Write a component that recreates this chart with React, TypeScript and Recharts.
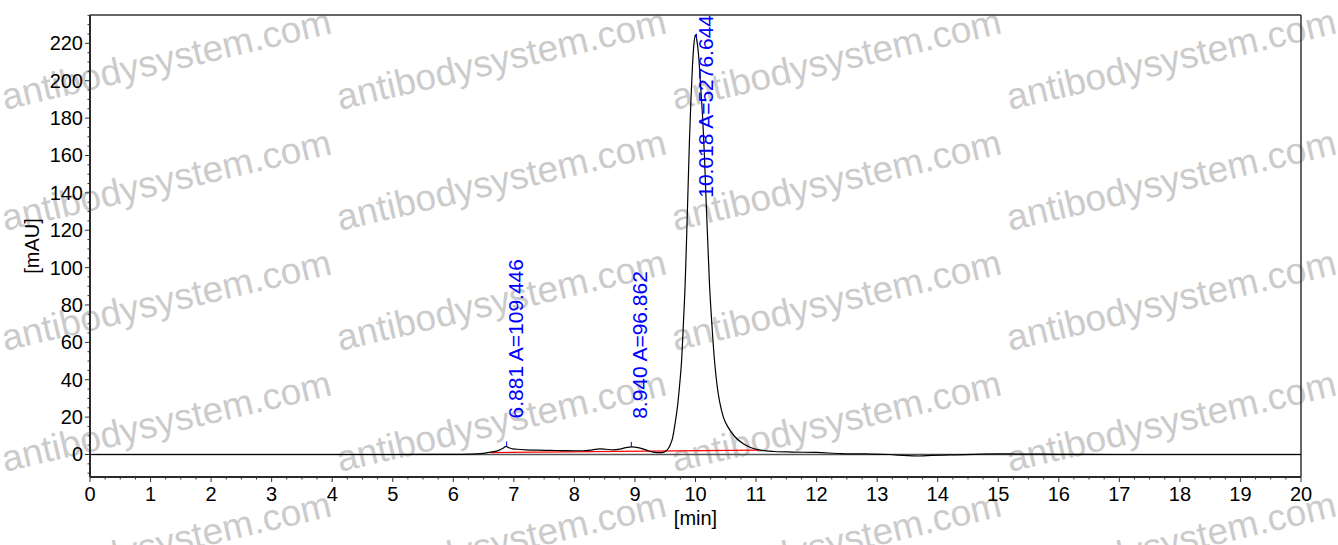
import React from "react";
import { ComposedChart, Line, Scatter, XAxis, YAxis, ReferenceLine } from "recharts";

// HPLC trace (minutes / mAU)
const traceTimes = [
  0, 1, 2, 3, 4, 5, 6.0, 6.3, 6.45, 6.55, 6.65, 6.75, 6.82, 6.87, 6.92, 6.98, 7.05, 7.2, 7.4, 7.6,
  7.8, 8.0, 8.15, 8.3, 8.42, 8.52, 8.64, 8.75, 8.85, 8.95, 9.05, 9.14, 9.22, 9.3, 9.41, 9.48, 9.53,
  9.58, 9.62, 9.66, 9.7, 9.74, 9.77, 9.8, 9.83, 9.855, 9.875, 9.9, 9.925, 9.95, 9.975, 10.0, 10.02,
  10.05, 10.085, 10.12, 10.15, 10.17, 10.2, 10.23, 10.27, 10.32, 10.36, 10.4, 10.46, 10.54, 10.65,
  10.79, 10.92, 11.07, 11.3, 11.6, 12.0, 12.4, 12.8, 13.2, 13.5, 13.7, 13.9, 14.1, 14.3, 14.6, 15.0,
  15.5, 16.0, 17, 18, 19, 20,
];
const traceMau = [
  0, 0, 0, 0, 0, 0, 0.05, 0.2, 0.5, 0.9, 1.4, 2.2, 3.3, 4.3, 3.6, 3.0, 2.8, 2.5, 2.3, 2.2,
  2.1, 2.0, 2.0, 2.5, 3.0, 2.8, 2.5, 2.9, 3.7, 4.1, 3.7, 2.9, 2.0, 1.3, 1.0, 1.3, 2.3,
  5, 8.6, 16, 25, 38, 50, 70, 92, 118, 140, 168, 190, 208, 220, 224.5, 222,
  214, 197, 179, 158, 140, 116, 92, 70, 48, 36, 28, 20, 14.5, 9.5,
  5.8, 3.6, 2.3, 1.6, 1.3, 1.1, 0.5, 0.3, 0.0, -0.6, -0.8, -0.5, -0.3, -0.2, 0.1, 0.3,
  0.2, 0.1, 0, 0, 0, 0,
];

// integration baseline (red)
const baselineTimes = [6.62, 11.05];
const baselineMau = [1.0, 2.3];

// peak annotations
const peakTimes = [6.881, 8.94, 10.018];
const peakApex = [4.3, 4.1, 222.5];
const peakLabels = ["6.881 A=109.446", "8.940 A=96.862", "10.018 A=5276.644"];

// axes
const xMajorTicks = [0, 1, 2, 3, 4, 5, 6, 7, 8, 9, 10, 11, 12, 13, 14, 15, 16, 17, 18, 19, 20];
const yMajorTicks = [0, 20, 40, 60, 80, 100, 120, 140, 160, 180, 200, 220];
const X_DOMAIN: [number, number] = [0, 20];
const Y_DOMAIN: [number, number] = [-12.04, 235.16];

const W = 1338;
const H = 545;
const PLOT_TOP = 15;
const FONT = "'Liberation Sans', Arial, sans-serif";

const watermarkCols = [5, 340, 675, 1010];
const watermarkRows = [110, 231, 351, 472, 593];

const trace = traceTimes.map((t, i) => ({ t, v: traceMau[i] }));
const baseline = baselineTimes.map((t, i) => ({ t, v: baselineMau[i] }));
const peaks = peakTimes.map((t, i) => ({ t, v: peakApex[i], label: peakLabels[i] }));

// minor ticks: 4 per minute on x, every 5 mAU on y
const xTicks: number[] = [];
for (let i = 0; i <= 80; i++) xTicks.push(i / 4);
const yTicks: number[] = [];
for (let v = -10; v <= 235; v += 5) yTicks.push(v);

const XTick = (props: any) => {
  const { x, y, payload } = props;
  const val = payload.value as number;
  const major = xMajorTicks.includes(val);
  return (
    <g>
      <line x1={x} x2={x} y1={y} y2={y + (major ? 5 : 2.5)} stroke="#333" strokeWidth={1} />
      {major && (
        <text x={x} y={y + 17} textAnchor="middle" dominantBaseline="central" fontSize={20} fill="#000" fontFamily={FONT}>
          {val}
        </text>
      )}
    </g>
  );
};

const YTick = (props: any) => {
  const { x, y, payload } = props;
  const val = payload.value as number;
  const major = yMajorTicks.includes(val);
  return (
    <g>
      <line x1={x} x2={x - (major ? 5 : 2.5)} y1={y} y2={y} stroke="#333" strokeWidth={1} />
      {major && (
        <text x={x - 7} y={y} textAnchor="end" dominantBaseline="central" fontSize={20} fill="#000" fontFamily={FONT}>
          {val}
        </text>
      )}
    </g>
  );
};

// blue apex tick + rotated label; pushed down if it would run off the top
const PeakMark = (props: any) => {
  const { cx, cy, payload } = props;
  const text: string = payload.label;
  const estLen = text.length * 10.4;
  const tx = cx + 16;
  let ty = cy - 28;
  let anchor: "start" | "end" = "start";
  if (ty - estLen < PLOT_TOP) {
    ty = PLOT_TOP;
    anchor = "end";
  }
  return (
    <g>
      <line x1={cx} x2={cx} y1={cy - 5} y2={cy} stroke="#0000ff" strokeWidth={1} />
      <text
        x={tx}
        y={ty}
        transform={`rotate(-90, ${tx}, ${ty})`}
        textAnchor={anchor}
        fontSize={21}
        fill="#0000ff"
        fontFamily={FONT}
      >
        {text}
      </text>
    </g>
  );
};

export default function App() {
  return (
    <div style={{ position: "absolute", left: 0, top: 0, width: W, height: H, background: "#fff", overflow: "hidden" }}>
      <svg width={W} height={H} style={{ position: "absolute", left: 0, top: 0 }}>
        {watermarkRows.map((ry) =>
          watermarkCols.map((cx) => (
            <text
              key={`${cx}-${ry}`}
              x={cx}
              y={ry}
              transform={`rotate(-13.2, ${cx}, ${ry})`}
              fontSize={37}
              fill="#cbcbcb"
              fontFamily={FONT}
            >
              antibodysystem.com
            </text>
          ))
        )}
      </svg>
      <div style={{ position: "absolute", left: 0, top: 0 }}>
        <ComposedChart width={W} height={H} margin={{ top: PLOT_TOP, right: 37, bottom: 38, left: 30 }}>
          <XAxis
            dataKey="t"
            type="number"
            domain={X_DOMAIN}
            ticks={xTicks}
            interval={0}
            height={30}
            tickSize={0}
            tickMargin={0}
            tickLine={false}
            tick={<XTick />}
            axisLine={{ stroke: "#2a2a2a", strokeWidth: 2 }}
            allowDataOverflow
            label={(p: any) => {
              const vb = p.viewBox;
              return (
                <text x={vb.x + vb.width / 2} y={vb.y + 41} textAnchor="middle" dominantBaseline="central" fontSize={20} fontFamily={FONT} fill="#000">
                  [min]
                </text>
              );
            }}
          />
          <YAxis
            dataKey="v"
            type="number"
            domain={Y_DOMAIN}
            ticks={yTicks}
            interval={0}
            width={60}
            tickSize={0}
            tickMargin={0}
            tickLine={false}
            tick={<YTick />}
            axisLine={{ stroke: "#2a2a2a", strokeWidth: 2 }}
            allowDataOverflow
            label={(p: any) => {
              const vb = p.viewBox;
              const lx = vb.x + 2;
              const ly = vb.y + vb.height / 2;
              return (
                <text x={lx} y={ly} transform={`rotate(-90, ${lx}, ${ly})`} textAnchor="middle" dominantBaseline="central" fontSize={20} fontFamily={FONT} fill="#000">
                  [mAU]
                </text>
              );
            }}
          />
          <ReferenceLine y={Y_DOMAIN[1]} stroke="#333" strokeWidth={1.5} />
          <ReferenceLine x={X_DOMAIN[1]} stroke="#333" strokeWidth={1.5} />
          <ReferenceLine y={0} stroke="#555" strokeWidth={1.3} />
          <Line data={baseline} dataKey="v" stroke="#ff0000" strokeWidth={1.2} dot={false} isAnimationActive={false} />
          <Line data={trace} dataKey="v" type="monotone" stroke="#000" strokeWidth={1.2} dot={false} isAnimationActive={false} />
          <Scatter data={peaks} dataKey="v" shape={<PeakMark />} isAnimationActive={false} />
        </ComposedChart>
      </div>
    </div>
  );
}
